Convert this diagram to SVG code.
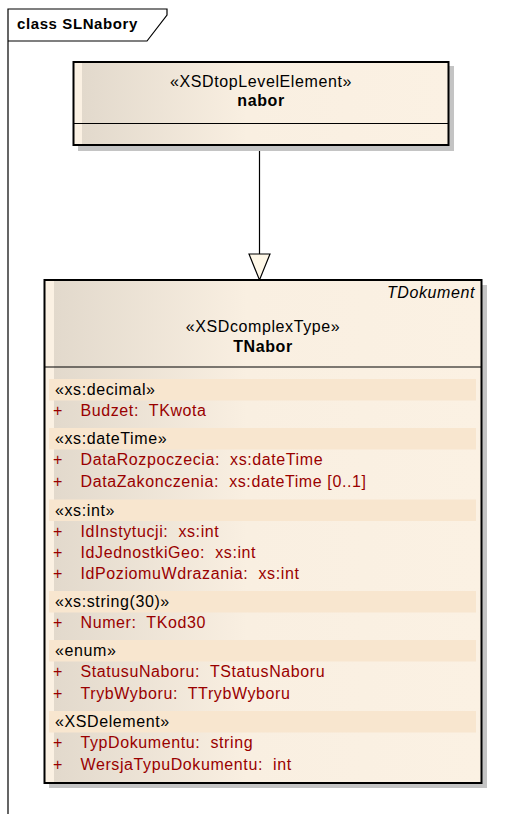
<svg xmlns="http://www.w3.org/2000/svg" width="510" height="814" viewBox="0 0 510 814">
<style>
text{font-family:"Liberation Sans",Arial,sans-serif;font-size:16px;letter-spacing:0.6px;fill:#000;white-space:pre}
.title{font-weight:bold;font-size:15px;letter-spacing:0.6px}
.bold{font-weight:bold}
.it{font-style:italic}
.mid{text-anchor:middle}
.attr{fill:#990000}
.box{stroke:#000;stroke-width:2}
.shadow{fill:#c4c4c4}
.band{fill:#f8e6cf}
.div{stroke:#000;stroke-width:1.2}
</style>
<defs>
<linearGradient id="g" x1="0" y1="0" x2="1" y2="0">
<stop offset="0" stop-color="#e2d9cc"/>
<stop offset="0.45" stop-color="#f9efe1"/>
<stop offset="1" stop-color="#fbf1e3"/>
</linearGradient>
</defs>
<rect width="510" height="814" fill="#fff"/>
<g id="frame">
<path d="M8,814 V9 H167 V15 L147,41 H8" fill="none" stroke="#000" stroke-width="1.2"/>
<text class="title" x="17" y="29">class SLNabory</text>
</g>
<g id="connectors">
<line x1="259.5" y1="146" x2="259.5" y2="254" stroke="#000" stroke-width="1.2"/>
<polygon points="249,254 270,254 259.5,280" fill="#fff8e8" stroke="#000" stroke-width="1.2"/>
</g>
<g id="nabor">
<rect class="shadow" x="78" y="66" width="376" height="85"/>
<rect x="73.5" y="62" width="375" height="83" fill="#fbf1e3"/>
<rect x="82" y="62" width="366.5" height="83" fill="url(#g)"/>
<rect class="box" x="73.5" y="62" width="375" height="83" fill="none"/>
<line class="div" x1="73.5" y1="123.5" x2="448.5" y2="123.5"/>
<text class="mid" x="261" y="86.5">«XSDtopLevelElement»</text>
<text class="mid bold" x="261" y="106">nabor</text>
</g>
<g id="TNabor">
<rect class="shadow" x="49" y="285" width="438" height="503"/>
<rect x="44.5" y="280" width="437" height="503" fill="#fbf1e3"/>
<rect x="54" y="280" width="427.5" height="503" fill="url(#g)"/>
<rect class="box" x="44.5" y="280" width="437" height="503" fill="none"/>
<text class="it" x="475" y="298" text-anchor="end">TDokument</text>
<text class="mid" x="263" y="331.5">«XSDcomplexType»</text>
<text class="mid bold" x="263" y="352">TNabor</text>
<line class="div" x1="44.5" y1="367" x2="481.5" y2="367"/>
<rect class="band" x="49" y="379" width="427" height="21.5"/>
<rect class="band" x="49" y="428" width="427" height="21.5"/>
<rect class="band" x="49" y="499.5" width="427" height="21.5"/>
<rect class="band" x="49" y="591" width="427" height="21.5"/>
<rect class="band" x="49" y="640" width="427" height="21.5"/>
<rect class="band" x="49" y="711" width="427" height="21.5"/>
<text x="55" y="395">«xs:decimal»</text>
<text class="attr" x="53" y="416">+</text><text class="attr" x="80.5" y="416">Budzet:  TKwota</text>
<text x="55" y="443.5">«xs:dateTime»</text>
<text class="attr" x="53" y="465">+</text><text class="attr" x="80.5" y="465">DataRozpoczecia:  xs:dateTime</text>
<text class="attr" x="53" y="487">+</text><text class="attr" x="80.5" y="487">DataZakonczenia:  xs:dateTime [0..1]</text>
<text x="55" y="515.5">«xs:int»</text>
<text class="attr" x="53" y="537">+</text><text class="attr" x="80.5" y="537">IdInstytucji:  xs:int</text>
<text class="attr" x="53" y="558">+</text><text class="attr" x="80.5" y="558">IdJednostkiGeo:  xs:int</text>
<text class="attr" x="53" y="579">+</text><text class="attr" x="80.5" y="579">IdPoziomuWdrazania:  xs:int</text>
<text x="55" y="606.5">«xs:string(30)»</text>
<text class="attr" x="53" y="628">+</text><text class="attr" x="80.5" y="628">Numer:  TKod30</text>
<text x="55" y="655.5">«enum»</text>
<text class="attr" x="53" y="677">+</text><text class="attr" x="80.5" y="677">StatusuNaboru:  TStatusNaboru</text>
<text class="attr" x="53" y="699">+</text><text class="attr" x="80.5" y="699">TrybWyboru:  TTrybWyboru</text>
<text x="55" y="726.5">«XSDelement»</text>
<text class="attr" x="53" y="748">+</text><text class="attr" x="80.5" y="748">TypDokumentu:  string</text>
<text class="attr" x="53" y="769.5">+</text><text class="attr" x="80.5" y="769.5">WersjaTypuDokumentu:  int</text>
</g>
</svg>
